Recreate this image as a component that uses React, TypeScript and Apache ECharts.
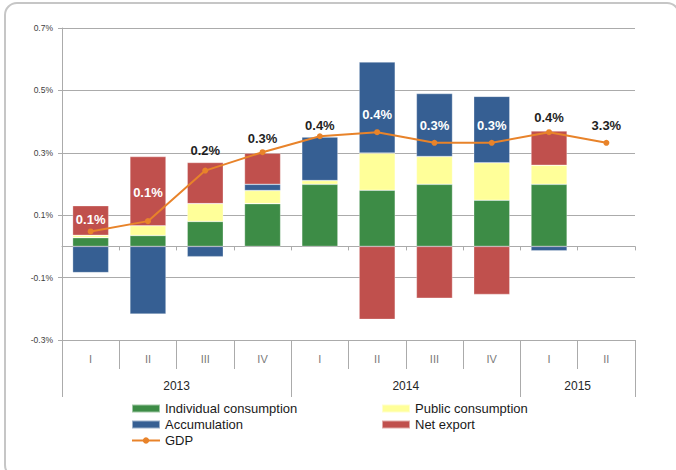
import React, { useEffect, useRef } from "react";
import * as echarts from "echarts";

const quarters = ["I", "II", "III", "IV", "I", "II", "III", "IV", "I", "II"];
const years = ["2013", "2014", "2015"];
const quartersPerYear = [4, 4, 2];
const yTickLabels = ["-0.3%", "-0.1%", "0.1%", "0.3%", "0.5%", "0.7%"];
const yMin = -0.3;
const yMax = 0.7;

const individual = [0.028, 0.035, 0.08, 0.137, 0.199, 0.18, 0.199, 0.148, 0.199, null];
const publicCons = [0.0075, 0.031, 0.057, 0.042, 0.012, 0.119, 0.089, 0.12, 0.061, null];
const accumulation = [-0.084, -0.217, -0.033, 0.02, 0.14, 0.292, 0.202, 0.213, -0.014, null];
const netExport = [0.095, 0.222, 0.132, 0.1, 0, -0.234, -0.166, -0.154, 0.11, null];
const gdp = [0.048, 0.081, 0.243, 0.302, 0.353, 0.366, 0.332, 0.332, 0.366, 0.332];
const gdpLabels = ["0.1%", "0.1%", "0.2%", "0.3%", "0.4%", "0.4%", "0.3%", "0.3%", "0.4%", "3.3%"];

// label styling (not data)
const labelDistances = [2, 19, 11, 4, 1, 8, 8, 8, 5, 8];
const labelInside = [true, true, false, false, false, true, true, true, false, false];

const FONT = "Liberation Sans, Arial, sans-serif";

export default function App() {
  const ref = useRef<HTMLDivElement>(null);
  useEffect(() => {
    if (!ref.current) return;
    const chart = echarts.init(ref.current, null, { renderer: "svg" });

    // year boundaries & label positions
    const yearStarts: number[] = [];
    const yearLabelAt: Record<number, string> = {};
    let s = 0;
    years.forEach((y, i) => {
      yearStarts.push(s);
      const c = quartersPerYear[i];
      yearLabelAt[s + c / 2 - 1] = y;
      s += c;
    });

    const gridColor = "#ababab";
    const barBorder = { borderColor: "rgba(255,255,255,0.5)", borderWidth: 0.6 };
    const legendText = { fontSize: 13, color: "#1a1a1a", fontFamily: FONT, lineHeight: 12 };

    const option: any = {
      animation: false,
      backgroundColor: "#ffffff",
      textStyle: { fontFamily: FONT },
      graphic: [
        {
          type: "rect",
          shape: { x: 5, y: 3, width: 674, height: 474, r: 12 },
          style: { fill: "none", stroke: "#c6c6c6", lineWidth: 2 },
          z: -1,
          silent: true,
        },
      ],
      grid: { left: 62, right: 41, top: 28, bottom: 130 },
      legend: [
        {
          orient: "vertical",
          left: 131,
          top: 402,
          padding: 0,
          itemWidth: 28,
          itemHeight: 8,
          itemGap: 3,
          textStyle: legendText,
          data: [
            { name: "Individual consumption", icon: "rect" },
            { name: "Accumulation", icon: "rect" },
            { name: "GDP" },
          ],
        },
        {
          orient: "vertical",
          left: 381,
          top: 402,
          padding: 0,
          itemWidth: 28,
          itemHeight: 8,
          itemGap: 3,
          textStyle: legendText,
          data: [
            { name: "Public consumption", icon: "rect" },
            { name: "Net export", icon: "rect" },
          ],
        },
      ],
      xAxis: [
        {
          type: "category",
          data: quarters,
          axisLine: { onZero: true, onZeroAxisIndex: 0, lineStyle: { color: gridColor, width: 1 } },
          axisTick: { show: true, length: 4, lineStyle: { color: gridColor } },
          axisLabel: { show: false },
          splitLine: { show: false },
        },
        {
          type: "category",
          data: quarters,
          position: "bottom",
          axisLine: { onZero: false, lineStyle: { color: gridColor, width: 1 } },
          axisTick: { show: true, length: 29, lineStyle: { color: gridColor } },
          axisLabel: { interval: 0, margin: 13, fontSize: 11, color: "#7a7a7a", fontFamily: FONT },
          splitLine: { show: false },
        },
        {
          type: "category",
          data: quarters,
          position: "bottom",
          axisLine: { show: false, onZero: false },
          axisTick: {
            show: true,
            length: 57,
            interval: (i: number) => yearStarts.indexOf(i) >= 0,
            lineStyle: { color: gridColor },
          },
          axisLabel: {
            interval: 0,
            margin: 40,
            fontSize: 12,
            color: "#262626",
            fontFamily: FONT,
            padding: [0, 0, 0, 57.3],
            formatter: (_v: string, i: number) => yearLabelAt[i] || "",
          },
          splitLine: { show: false },
        },
      ],
      yAxis: [
        { type: "value", min: yMin, max: yMax, show: false, splitLine: { show: false } },
        {
          type: "value",
          min: 0,
          max: yTickLabels.length - 1,
          interval: 1,
          position: "left",
          axisLine: { show: true, lineStyle: { color: gridColor } },
          axisTick: { show: true, length: 4, lineStyle: { color: gridColor } },
          splitLine: { show: true, lineStyle: { color: gridColor, width: 1 } },
          axisLabel: {
            margin: 9,
            fontSize: 8.5,
            color: "#404040",
            fontFamily: FONT,
            formatter: (v: number) => yTickLabels[Math.round(v)] ?? "",
          },
        },
      ],
      series: [
        {
          name: "Individual consumption",
          type: "bar",
          stack: "t",
          barWidth: "63%",
          data: individual,
          itemStyle: { color: "#3d8c46", ...barBorder },
        },
        {
          name: "Public consumption",
          type: "bar",
          stack: "t",
          data: publicCons,
          itemStyle: { color: "#ffff99", ...barBorder },
        },
        {
          name: "Accumulation",
          type: "bar",
          stack: "t",
          data: accumulation,
          itemStyle: { color: "#365f93", ...barBorder },
        },
        {
          name: "Net export",
          type: "bar",
          stack: "t",
          data: netExport,
          itemStyle: { color: "#c0504d", ...barBorder },
        },
        {
          name: "GDP",
          type: "line",
          data: gdp.map((v, i) => ({
            value: v,
            label: {
              show: true,
              position: "top",
              distance: labelDistances[i],
              formatter: gdpLabels[i],
              color: labelInside[i] ? "#ffffff" : "#1f1f1f",
              fontWeight: "bold",
              fontSize: 13,
              fontFamily: FONT,
            },
          })),
          symbol: "circle",
          symbolSize: 6,
          lineStyle: { color: "#e8832a", width: 2 },
          itemStyle: { color: "#e8832a" },
          z: 5,
        },
      ],
    };
    chart.setOption(option);
    return () => chart.dispose();
  }, []);
  return (
    <div
      ref={ref}
      style={{ position: "absolute", left: 0, top: 0, width: 676, height: 470 }}
    />
  );
}
